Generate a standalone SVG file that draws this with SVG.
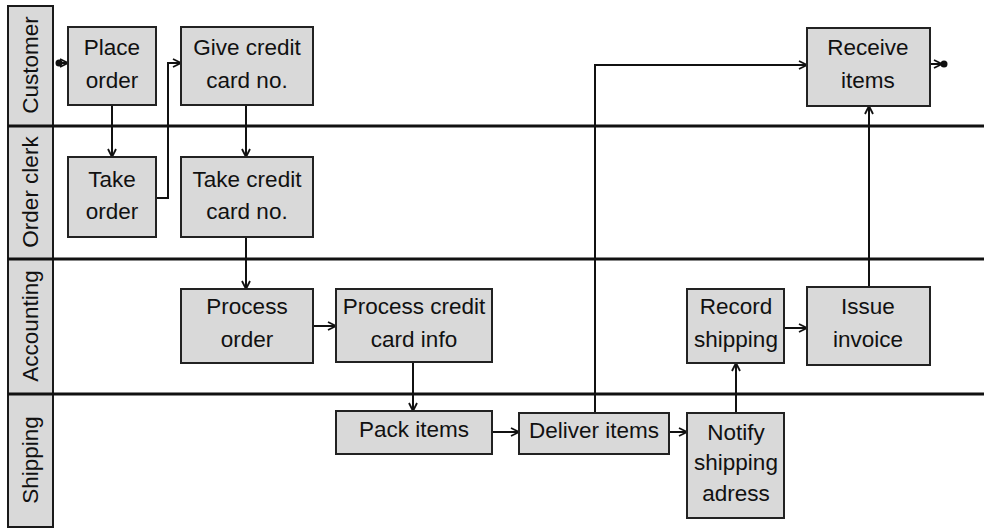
<svg xmlns="http://www.w3.org/2000/svg" width="984" height="529" viewBox="0 0 984 529">
  <style>
    .lane-head { fill: #d9d9d9; stroke: #1a1a1a; stroke-width: 2; }
    .sep { stroke: #111; stroke-width: 3; }
    .box { fill: #d9d9d9; stroke: #222; stroke-width: 2; }
    .lbl { font-family: "Liberation Sans", Arial, sans-serif; font-size: 22.5px; fill: #111; text-anchor: middle; }
    .wire { fill: none; stroke: #111; stroke-width: 2; marker-end: url(#arrow); }
  </style>
  <defs>
    <marker id="arrow" viewBox="0 0 10 10" refX="9" refY="5" markerWidth="10" markerHeight="10" markerUnits="userSpaceOnUse" orient="auto">
      <path d="M1,1 L9,5 L1,9" fill="none" stroke="#111" stroke-width="1.8"/>
    </marker>
  </defs>
  <rect width="984" height="529" fill="#ffffff"/>

  <!-- swimlane headers -->
  <g id="lanes">
    <rect class="lane-head" x="8" y="6" width="45" height="521"/>
    <line class="sep" x1="8" y1="126" x2="984" y2="126"/>
    <line class="sep" x1="8" y1="259" x2="984" y2="259"/>
    <line class="sep" x1="8" y1="394" x2="984" y2="394"/>
    <text class="lbl" transform="translate(38,65) rotate(-90)">Customer</text>
    <text class="lbl" transform="translate(38,192) rotate(-90)">Order clerk</text>
    <text class="lbl" transform="translate(38,326) rotate(-90)">Accounting</text>
    <text class="lbl" transform="translate(38,460) rotate(-90)">Shipping</text>
  </g>

  <!-- connectors -->
  <g id="connectors">
    <circle cx="59" cy="63" r="3.5" fill="#111"/>
    <path class="wire" d="M59,63 H68"/>
    <path class="wire" d="M112,105 V157"/>
    <path class="wire" d="M156,198 H168 V63 H181"/>
    <path class="wire" d="M246,105 V157"/>
    <path class="wire" d="M246,237 V289"/>
    <path class="wire" d="M313,326 H336"/>
    <path class="wire" d="M413,362 V411"/>
    <path class="wire" d="M492,432 H519"/>
    <path class="wire" d="M595,413 V65 H807"/>
    <path class="wire" d="M669,432 H687"/>
    <path class="wire" d="M736,413 V363"/>
    <path class="wire" d="M784,328 H807"/>
    <path class="wire" d="M869,287 V106"/>
    <path class="wire" d="M930,64 H942"/>
    <circle cx="944" cy="64" r="3.5" fill="#111"/>
  </g>

  <!-- activities -->
  <g id="place-order">
    <rect class="box" x="68" y="27" width="88" height="78"/>
    <text class="lbl" x="112" y="55">Place</text>
    <text class="lbl" x="112" y="88">order</text>
  </g>
  <g id="give-credit-card">
    <rect class="box" x="181" y="27" width="132" height="78"/>
    <text class="lbl" x="247" y="55">Give credit</text>
    <text class="lbl" x="247" y="88">card no.</text>
  </g>
  <g id="take-order">
    <rect class="box" x="68" y="157" width="88" height="80"/>
    <text class="lbl" x="112" y="187">Take</text>
    <text class="lbl" x="112" y="219">order</text>
  </g>
  <g id="take-credit-card">
    <rect class="box" x="181" y="157" width="132" height="80"/>
    <text class="lbl" x="247" y="187">Take credit</text>
    <text class="lbl" x="247" y="219">card no.</text>
  </g>
  <g id="process-order">
    <rect class="box" x="181" y="289" width="132" height="74"/>
    <text class="lbl" x="247" y="314">Process</text>
    <text class="lbl" x="247" y="347">order</text>
  </g>
  <g id="process-credit-card">
    <rect class="box" x="336" y="289" width="156" height="73"/>
    <text class="lbl" x="414" y="314">Process credit</text>
    <text class="lbl" x="414" y="347">card info</text>
  </g>
  <g id="pack-items">
    <rect class="box" x="336" y="411" width="156" height="43"/>
    <text class="lbl" x="414" y="437">Pack items</text>
  </g>
  <g id="deliver-items">
    <rect class="box" x="519" y="413" width="150" height="41"/>
    <text class="lbl" x="594" y="438">Deliver items</text>
  </g>
  <g id="notify-shipping">
    <rect class="box" x="687" y="413" width="97" height="105"/>
    <text class="lbl" x="736" y="440">Notify</text>
    <text class="lbl" x="736" y="470">shipping</text>
    <text class="lbl" x="736" y="501">adress</text>
  </g>
  <g id="record-shipping">
    <rect class="box" x="687" y="289" width="97" height="74"/>
    <text class="lbl" x="736" y="314">Record</text>
    <text class="lbl" x="736" y="347">shipping</text>
  </g>
  <g id="issue-invoice">
    <rect class="box" x="807" y="287" width="123" height="78"/>
    <text class="lbl" x="868" y="314">Issue</text>
    <text class="lbl" x="868" y="347">invoice</text>
  </g>
  <g id="receive-items">
    <rect class="box" x="807" y="28" width="123" height="78"/>
    <text class="lbl" x="868" y="55">Receive</text>
    <text class="lbl" x="868" y="88">items</text>
  </g>
</svg>
